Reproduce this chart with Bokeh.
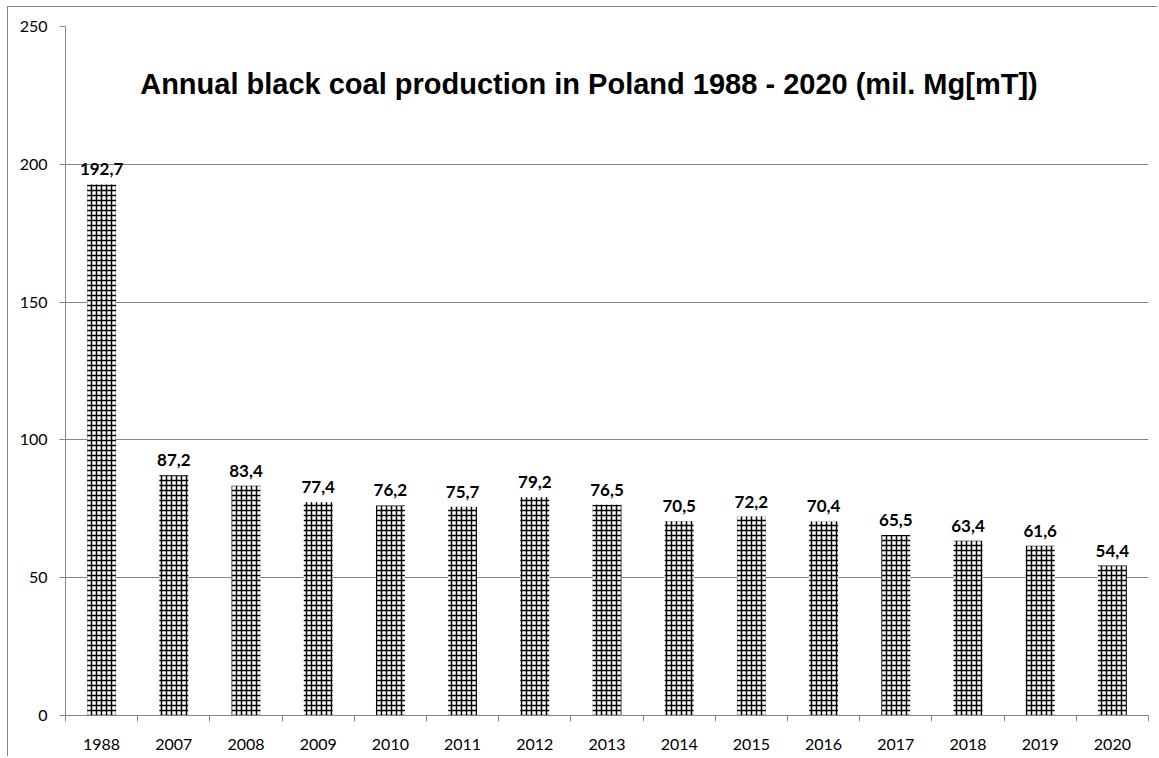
from bokeh.plotting import figure
from bokeh.models import ColumnDataSource, Range1d, FixedTicker, Label
from bokeh.embed import file_html
from bokeh.resources import INLINE
from bokeh.core.properties import value

# Annual hard (black) coal output in Poland, million tonnes
years = ["1988", "2007", "2008", "2009", "2010", "2011", "2012", "2013",
         "2014", "2015", "2016", "2017", "2018", "2019", "2020"]
production = [192.7, 87.2, 83.4, 77.4, 76.2, 75.7, 79.2, 76.5,
              70.5, 72.2, 70.4, 65.5, 63.4, 61.6, 54.4]
y_ticks = [0, 50, 100, 150, 200, 250]

title_text = "Annual black coal production in Poland 1988 - 2020 (mil. Mg[mT])"

GREY = "#868686"

idx = list(range(len(years)))
labels = [f"{v:.1f}".replace(".", ",") for v in production]
src = ColumnDataSource(dict(x=idx, top=production, label=labels))

p = figure(width=1150, height=750, output_backend="svg", toolbar_location=None,
           x_range=Range1d(-0.5, len(years) - 0.5),
           y_range=Range1d(y_ticks[0], y_ticks[-1]),
           min_border_left=57, min_border_right=10,
           min_border_top=19, min_border_bottom=42)
p.margin = (6, 0, 0, 7)
p.styles = {"border-top": f"1px solid {GREY}", "border-left": f"1px solid {GREY}"}
p.outline_line_color = None
p.background_fill_color = "white"
p.border_fill_color = "white"

# bars with a fine cross-hatch
p.vbar(x="x", top="top", width=0.4, source=src,
       fill_color="white", line_color=None,
       hatch_pattern="+", hatch_color="black", hatch_scale=5, hatch_weight=1.5)

# value labels above bars
p.text(x="x", y="top", text="label", source=src,
       text_align="center", text_baseline="bottom", y_offset=-9,
       text_font=value("Lato"), text_font_style="bold",
       text_font_size="17px", text_color="black")

# x axis: labels at category centres, ticks at category boundaries
xa = p.xaxis[0]
xa.ticker = FixedTicker(ticks=idx, minor_ticks=[i - 0.5 for i in range(len(years) + 1)])
xa.major_label_overrides = {i: y for i, y in enumerate(years)}
xa.major_tick_out = 0
xa.major_tick_in = 0
xa.minor_tick_out = 6
xa.minor_tick_in = 0
xa.minor_tick_line_color = GREY
xa.axis_line_color = GREY
xa.major_label_standoff = 17
xa.major_label_text_font = "Lato"
xa.major_label_text_font_size = "16px"
xa.major_label_text_color = "black"

ya = p.yaxis[0]
ya.ticker = FixedTicker(ticks=y_ticks)
ya.major_tick_out = 6
ya.major_tick_in = 0
ya.minor_tick_out = 0
ya.minor_tick_in = 0
ya.major_tick_line_color = GREY
ya.axis_line_color = GREY
ya.major_label_standoff = 12
ya.major_label_text_font = "Lato"
ya.major_label_text_font_size = "16px"
ya.major_label_text_color = "black"

p.xgrid.visible = False
p.ygrid.ticker = FixedTicker(ticks=y_ticks)
p.ygrid.grid_line_color = GREY
p.ygrid.grid_line_width = 1

p.add_layout(Label(x=6.75, y=229, text=title_text,
                   text_font="Liberation Sans", text_font_style="bold",
                   text_font_size="29px", text_align="center",
                   text_baseline="middle", text_color="black"))

open("out.html", "w").write(file_html(p, INLINE))
